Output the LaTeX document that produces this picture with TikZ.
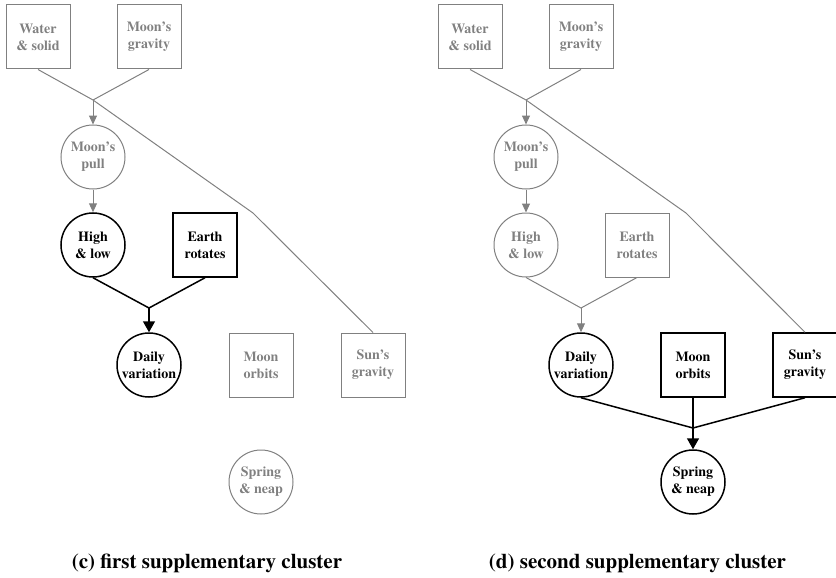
\documentclass[tikz,border=0pt]{standalone}
\usepackage{fontspec}
\newfontfamily\capfont{texgyretermes-bold.otf}
\usetikzlibrary{arrows.meta}
\definecolor{fade}{RGB}{128,128,128}
\begin{document}
\begin{tikzpicture}[x=1pt,y=-1pt,
  base/.style={inner sep=0pt, align=center, font=\capfont\fontsize{14}{17}\selectfont},
  gbox/.style={base, rectangle, draw=fade, text=fade, line width=1pt, minimum size=64pt},
  gcirc/.style={base, circle, draw=fade, text=fade, line width=1pt, minimum size=64pt},
  kbox/.style={base, rectangle, draw=black, line width=1.5pt, minimum size=64pt},
  kcirc/.style={base, circle, draw=black, line width=1.5pt, minimum size=64pt},
  gline/.style={draw=fade, line width=1pt},
  garrow/.style={gline, -{Triangle[width=8pt,length=9pt]}},
  kline/.style={draw=black, line width=1.5pt},
  karrow/.style={kline, -{Triangle[width=12pt,length=11pt]}},
  caption/.style={anchor=base, inner sep=0pt, font=\capfont\fontsize{21}{25}\selectfont}]
\useasboundingbox (0,0) rectangle (836,578);

% ---------- left panel (c) ----------
\node[gbox]  (Lws) at (38,37)  {Water\\\& solid};
\node[gbox]  (Lmg) at (149,37) {Moon’s\\gravity};
\node[gcirc] (Lmp) at (93,157) {Moon’s\\pull};
\node[kcirc] (Lhl) at (93,245) {High\\\& low};
\node[kbox]  (Ler) at (205,245) {Earth\\rotates};
\node[kcirc] (Ldv) at (149,365) {Daily\\variation};
\node[gbox]  (Lmo) at (261,365) {Moon\\orbits};
\node[gbox]  (Lsg) at (373,365) {Sun’s\\gravity};
\node[gcirc] (Lsn) at (261,482) {Spring\\\& neap};
\coordinate (LjA) at (93,100);
\coordinate (Lbend) at (253,213);
\coordinate (LjB) at (149,308);

\draw[gline] (Lws.south) -- (LjA) -- (Lbend) -- (Lsg.north);
\draw[gline] (Lmg.south) -- (LjA);
\draw[garrow] (LjA) -- (Lmp.north);
\draw[garrow] (Lmp.south) -- (Lhl.north);
\draw[kline] (Lhl.south) -- (LjB) -- (Ler.south);
\draw[karrow] (LjB) -- (Ldv.north);

\node[caption] (Lcap) at (207,568) {(c) first supplementary cluster};

% ---------- right panel (d) ----------
\node[gbox]  (Rws) at (470,37)  {Water\\\& solid};
\node[gbox]  (Rmg) at (581,37) {Moon’s\\gravity};
\node[gcirc] (Rmp) at (526,157) {Moon’s\\pull};
\node[gcirc] (Rhl) at (526,245) {High\\\& low};
\node[gbox]  (Rer) at (637,245) {Earth\\rotates};
\node[kcirc] (Rdv) at (581,365) {Daily\\variation};
\node[kbox]  (Rmo) at (693,365) {Moon\\orbits};
\node[kbox]  (Rsg) at (805,365) {Sun’s\\gravity};
\node[kcirc] (Rsn) at (693,482) {Spring\\\& neap};
\coordinate (RjA) at (526,100);
\coordinate (Rbend) at (686,213);
\coordinate (RjB) at (581,308);
\coordinate (RjC) at (693,428);

\draw[gline] (Rws.south) -- (RjA) -- (Rbend) -- (Rsg.north);
\draw[gline] (Rmg.south) -- (RjA);
\draw[garrow] (RjA) -- (Rmp.north);
\draw[garrow] (Rmp.south) -- (Rhl.north);
\draw[gline] (Rhl.south) -- (RjB) -- (Rer.south);
\draw[garrow] (RjB) -- (Rdv.north);
\draw[kline] (Rdv.south) -- (RjC) -- (Rsg.south);
\draw[kline] (Rmo.south) -- (RjC);
\draw[karrow] (RjC) -- (Rsn.north);

\node[caption] (Rcap) at (637.5,568) {(d) second supplementary cluster};
\end{tikzpicture}
\end{document}
